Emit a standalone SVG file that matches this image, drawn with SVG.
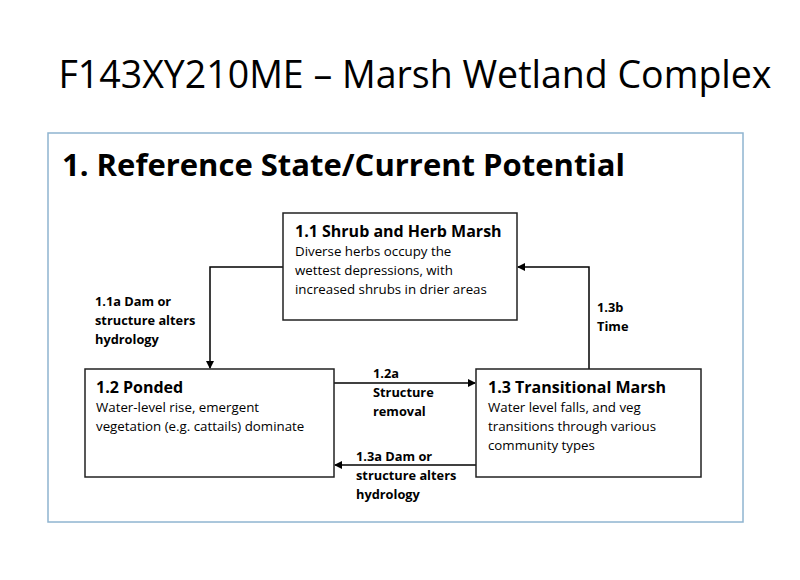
<svg xmlns="http://www.w3.org/2000/svg" width="800" height="580" viewBox="0 0 800 580">
<defs>
<style>
text{font-family:"Open Sans","Liberation Sans",sans-serif;fill:#000}
.box{fill:#fff;stroke:#222;stroke-width:1.5}
.t{font-weight:bold;font-size:16px}
.b{font-size:13.3px}
.l{font-weight:bold;font-size:12.8px}
.c{fill:none;stroke:#000;stroke-width:1.5}
</style>
<marker id="a" markerWidth="8" markerHeight="8" refX="7" refY="4" orient="auto" markerUnits="userSpaceOnUse"><path d="M0,0 L8,4 L0,8 z" fill="#000"/></marker>
</defs>
<rect width="800" height="580" fill="#fff"/>
<text x="415" y="88" font-size="37.5" text-anchor="middle">F143XY210ME – Marsh Wetland Complex</text>
<rect x="48" y="133" width="695" height="389" fill="none" stroke="#8fb4d0" stroke-width="1.5"/>
<text x="62" y="176" font-size="31" font-weight="bold">1. Reference State/Current Potential</text>
<g id="connectors">
<path class="c" d="M283,267 H210 V368" marker-end="url(#a)"/>
<path class="c" d="M589,369 V267 H518" marker-end="url(#a)"/>
<path class="c" d="M334,383 H475" marker-end="url(#a)"/>
<path class="c" d="M476,465 H335" marker-end="url(#a)"/>
<text class="l" x="95" y="306">1.1a Dam or</text>
<text class="l" x="95" y="325">structure  alters</text>
<text class="l" x="95" y="344">hydrology</text>
<text class="l" x="597" y="312">1.3b</text>
<text class="l" x="597" y="331">Time</text>
<text class="l" x="373" y="378">1.2a</text>
<text class="l" x="373" y="397">Structure</text>
<text class="l" x="373" y="416">removal</text>
<text class="l" x="356" y="461">1.3a Dam or</text>
<text class="l" x="356" y="480">structure alters</text>
<text class="l" x="356" y="499">hydrology</text>
</g>
<g id="n11">
<rect class="box" x="283" y="213" width="234" height="107"/>
<text class="t" x="295" y="237">1.1 Shrub and Herb Marsh</text>
<text class="b" x="295" y="256">Diverse herbs occupy the</text>
<text class="b" x="295" y="275">wettest depressions, with</text>
<text class="b" x="295" y="294">increased shrubs in drier areas</text>
</g>
<g id="n12">
<rect class="box" x="85" y="369" width="249" height="108"/>
<text class="t" x="96" y="393">1.2 Ponded</text>
<text class="b" x="96" y="412">Water-level rise, emergent</text>
<text class="b" x="96" y="431">vegetation (e.g. cattails) dominate</text>
</g>
<g id="n13">
<rect class="box" x="476" y="369" width="225" height="108"/>
<text class="t" x="488" y="393">1.3 Transitional Marsh</text>
<text class="b" x="488" y="412">Water level falls, and veg</text>
<text class="b" x="488" y="431">transitions through various</text>
<text class="b" x="488" y="450">community types</text>
</g>
</svg>
